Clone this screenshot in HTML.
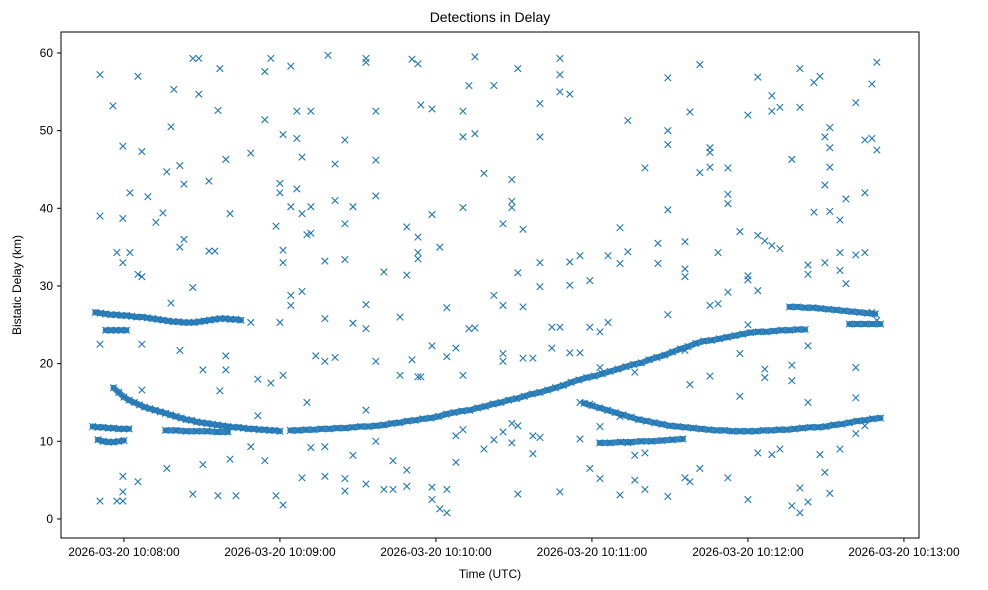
<!DOCTYPE html>
<html><head><meta charset="utf-8"><style>
body{margin:0;background:#fff;}
svg{display:block;font-family:"Liberation Sans","DejaVu Sans",sans-serif;}
</style></head><body>
<svg id="chart" width="988" height="590" viewBox="0 0 988 590" xmlns="http://www.w3.org/2000/svg">
<rect width="988" height="590" fill="#fff"/>
<text x="490" y="22" text-anchor="middle" font-size="14">Detections in Delay</text>
<g id="marks"></g>
<rect x="61" y="32" width="858" height="506" fill="none" stroke="#000" stroke-width="1"/>
<g id="xaxis"></g>
<g id="yaxis"></g>
<text x="490" y="578" text-anchor="middle" font-size="12">Time (UTC)</text>
<text transform="translate(21,285) rotate(-90)" text-anchor="middle" font-size="12">Bistatic Delay (km)</text>
</svg>
<script>
// time in seconds after 10:08:00 UTC
const xTickSecs = [0, 60, 120, 180, 240, 300];
const xTickLabels = ["2026-03-20 10:08:00","2026-03-20 10:09:00","2026-03-20 10:10:00","2026-03-20 10:11:00","2026-03-20 10:12:00","2026-03-20 10:13:00"];
const yTicks = [0, 10, 20, 30, 40, 50, 60];

// tracks: start time, step (s), values
const trackA = {t0:-11, dt:2, v:[26.6,26.5,26.4,26.3,26.3,26.2,26.2,26.1,26.0,26.0,25.9,25.8,25.7,25.6,25.5,25.4,25.4,25.3,25.3,25.3,25.4,25.5,25.6,25.7,25.8,25.8,25.7,25.7,25.6]};
const trackA2 = {t0:-7, dt:2, v:[24.3,24.3,24.3,24.3,24.3]};
const trackB = {t0:-4, dt:2, v:[16.9,16.3,15.7,15.3,15.0,14.7,14.4,14.2,14.0,13.8,13.6,13.4,13.2,13.0,12.8,12.7,12.5,12.4,12.3,12.2,12.1,12.0,11.9,11.8,11.8,11.7,11.6,11.6,11.5,11.5,11.4,11.4,11.3]};
const trackL1 = {t0:-12, dt:2, v:[11.9,11.8,11.8,11.7,11.7,11.6,11.6,11.6]};
const trackL2 = {t0:-10, dt:2, v:[10.2,10.0,9.9,9.9,10.0,10.1]};
const trackM = {t0:16, dt:4, v:[11.4,11.4,11.3,11.3,11.3,11.2,11.2]};
const trackC = {t0:64, dt:3, v:[11.4,11.4,11.5,11.5,11.6,11.6,11.7,11.7,11.8,11.9,11.9,12.0,12.1,12.3,12.4,12.6,12.7,12.9,13.0,13.2,13.5,13.7,13.9,14.0,14.3,14.5,14.8,15.0,15.3,15.5,15.8,16.1,16.3,16.6,16.9,17.2,17.6,17.9,18.2,18.4,18.7,19.0,19.3,19.6,19.9,20.1,20.5,20.8,21.1,21.5,21.9,22.2,22.6,22.9,23.0,23.2,23.4,23.6,23.8,24.0,24.1,24.1,24.2,24.3,24.3,24.4,24.4]};
const trackE = {t0:177, dt:3, v:[14.9,14.6,14.3,14.0,13.7,13.4,13.1,12.8,12.6,12.4,12.2,12.0,11.9,11.8,11.7,11.6,11.5,11.4,11.4,11.3,11.3,11.3,11.3,11.4,11.4,11.5,11.5,11.6,11.7,11.8,11.8,11.9,12.1,12.2,12.4,12.6,12.7,12.9,13.0]};
const trackE2 = {t0:183, dt:4, v:[9.8,9.8,9.9,9.9,10.0,10.0,10.1,10.2,10.3]};
const trackD = {t0:256, dt:3, v:[27.3,27.3,27.2,27.2,27.1,27.0,26.9,26.8,26.7,26.6,26.5,26.4]};
const trackD2 = {t0:279, dt:3, v:[25.1,25.1,25.1,25.1,25.1]};

// scattered detections: [time, [delays]]
const noise = [[-9.2,[57.2,39,2.3,22.5]],[-4.2,[53.2]],[-2.7,[34.3,2.3]],[-0.4,[48,33,38.7,5.5,3.5,2.3]],[2.3,[42,34.3]],[5.4,[57,31.5,4.8]],[6.9,[47.3,31.2,16.6,22.5]],[9.2,[41.5]],[12.3,[38.2]],[15,[39.4]],[16.5,[44.7,6.5]],[18.1,[50.5,27.8]],[19.2,[55.3]],[21.5,[45.5,21.7,35]],[23.1,[43.1,36]],[26.5,[59.3,29.8,3.2]],[28.8,[59.3,54.7]],[30.4,[7,19.2]],[32.7,[43.5,34.5]],[35,[34.5]],[36.2,[52.6,3]],[36.9,[58,16.5]],[39.2,[46.3,21,19.2]],[40.8,[39.3,7.7]],[43.1,[3]],[48.8,[47.1,25.3,9.3]],[51.5,[18,13.3]],[54.2,[57.6,51.4,7.5]],[56.5,[59.3,17.5]],[58.5,[3,37.7]],[60,[42,43.2,25.3]],[61.2,[49.5,33,34.6,1.8,18.5]],[64.2,[58.3,40.2,27.5,28.8]],[66.5,[52.5,42.5,49]],[68.5,[46.6,39.3,29.3,5.3]],[70.4,[36.6,15]],[71.9,[52.5,36.8,40.2,9.2]],[73.8,[21]],[77.3,[33.2,25.8,20.3,5.5,9.3]],[78.5,[59.7]],[81.2,[45.7,41,20.8]],[85,[48.8,38,33.4,5.2,3.6]],[88.1,[40.2,25.2,8.2]],[93.1,[58.8,59.3,27.6,24.5,4.5,14]],[96.9,[52.5,46.2,41.6,20.3,10]],[100,[31.8,3.8]],[103.5,[3.8,7.5]],[106.2,[26,18.5]],[108.8,[6.3,4.2,31.4,37.6]],[110.8,[59.2,20.5]],[113.1,[58.6,34.3,33.5,36.3,18.3]],[114.2,[53.3,18.3]],[118.5,[39.2,52.8,2.5,22.3,4.1]],[121.5,[35,1.3]],[124.2,[0.8,3.8,27.2,20.9]],[127.7,[22,7.3,10.7]],[130.4,[52.5,49.2,40.1,18.5,11.5]],[132.7,[55.8,24.5]],[135,[59.5,49.6,24.6]],[138.5,[44.5,9]],[142.3,[55.8,28.8,10.2]],[145.8,[38,27.5,21.3,20.3,11.2]],[149.2,[43.7,40.9,40.1,12.3,9.8]],[151.5,[58,31.7,3.2,12]],[153.5,[37.3,27.3,20.7]],[157.3,[20.7,10.7,8.4]],[160,[49.2,53.5,33,29.9,10.5]],[164.6,[24.7,22]],[167.7,[57.2,59.3,55,3.5,24.7]],[171.5,[54.7,33.1,30.1,21.4]],[175.4,[33.9,21.4,10.3,15]],[179.2,[30.7,24.7,6.5,14.8]],[183.1,[5.2,24.1,19.5,11.9]],[186.2,[33.9,25.3]],[190.8,[3.1,37.5,32.9,13.2]],[193.8,[51.3,34.4,9.8]],[196.5,[5,18.9,8.2]],[200.4,[45.2,3.8,8.5]],[205.4,[35.5,32.9]],[209.2,[26.3,39.8,50,48.2,56.8,2.9]],[215.8,[35.7,32.2,31.2,21.7,5.3]],[217.7,[52.4,17.3,4.8]],[221.5,[58.5,44.6,6.5]],[225.4,[47.2,45.3,47.8,18.4,27.5]],[228.5,[34.3,27.7]],[232.3,[45.2,41.8,40.6,29.2,5.3]],[236.9,[37,21.3,15.8]],[240,[52,31.3,30.8,25,2.5]],[243.8,[56.9,36.5,29.4,8.5]],[246.5,[35.8,19.3,18.2]],[249.2,[52.5,54.5,35.2,8.3]],[252.3,[53,34.8,9]],[256.9,[46.3,17.8,19.8,1.7]],[260,[58,53,4,0.8]],[263.1,[2.2,15,31.5,32.7,22.3]],[265.4,[56.2,39.5]],[267.7,[57,8.3]],[269.6,[43,49.2,33,6]],[271.5,[45.3,47.8,50.4,39.6,3.3]],[275.4,[38.5,34.3,9,32]],[277.7,[30.3,41.2]],[281.5,[53.6,34,19.5,15.6,11]],[285,[48.8,42,34.3,12]],[287.7,[56,49,26.6]],[289.6,[58.8,47.5,25.6]]];

const X0=61, X1=919, Y0=538, Y1=32;
const xDom=[-24.2,305.8], yDom=[-2.45,62.7];
function xs(t){return X0+(t-xDom[0])/(xDom[1]-xDom[0])*(X1-X0);}
function ys(v){return Y0-(v-yDom[0])/(yDom[1]-yDom[0])*(Y0-Y1);}
const NS="http://www.w3.org/2000/svg";
const marks=document.getElementById('marks');
function mark(t,v,name){
  const x=xs(t), y=ys(v), r=3.3;
  const p=document.createElementNS(NS,'path');
  p.setAttribute('d',`M${x-r},${y-r}L${x+r},${y+r}M${x-r},${y+r}L${x+r},${y-r}`);
  p.setAttribute('stroke','#1f77b4');
  p.setAttribute('stroke-width','1.1');
  p.setAttribute('fill','none');
  
  
  marks.appendChild(p);
}
const tracks=[trackA,trackA2,trackB,trackL1,trackL2,trackM,trackC,trackE,trackE2,trackD,trackD2];
// dense detections along tracks form solid bands
tracks.forEach(tr=>{
  const pts=tr.v.map((v,i)=>xs(tr.t0+i*tr.dt).toFixed(1)+','+ys(v).toFixed(1));
  const pl=document.createElementNS(NS,'polyline');
  pl.setAttribute('points',pts.join(' '));
  pl.setAttribute('fill','none');
  pl.setAttribute('stroke','#1f77b4');
  pl.setAttribute('stroke-width','6');
  pl.setAttribute('stroke-linecap','round');
  pl.setAttribute('stroke-linejoin','round');
  pl.setAttribute('opacity','0.9');
  
  
  marks.appendChild(pl);
});
tracks.forEach(tr=>{
  tr.v.forEach((v,i)=>mark(tr.t0+i*tr.dt, v, 'track-detection'));
});
noise.forEach(([t,vals])=>vals.forEach(v=>mark(t,v,'scatter-detection')));

const xa=document.getElementById('xaxis');
xTickSecs.forEach((s,i)=>{
  const x=xs(s);
  const l=document.createElementNS(NS,'line');
  l.setAttribute('x1',x);l.setAttribute('x2',x);l.setAttribute('y1',Y0);l.setAttribute('y2',Y0+4);
  l.setAttribute('stroke','#000');
  
  
  xa.appendChild(l);
  const tx=document.createElementNS(NS,'text');
  tx.setAttribute('x',x);tx.setAttribute('y',Y0+18);tx.setAttribute('text-anchor','middle');tx.setAttribute('font-size','12');
  tx.textContent=xTickLabels[i];
  
  
  xa.appendChild(tx);
});
const ya=document.getElementById('yaxis');
yTicks.forEach(v=>{
  const y=ys(v);
  const l=document.createElementNS(NS,'line');
  l.setAttribute('x1',X0-4);l.setAttribute('x2',X0);l.setAttribute('y1',y);l.setAttribute('y2',y);
  l.setAttribute('stroke','#000');
  
  
  ya.appendChild(l);
  const tx=document.createElementNS(NS,'text');
  tx.setAttribute('x',X0-8);tx.setAttribute('y',y+4);tx.setAttribute('text-anchor','end');tx.setAttribute('font-size','12');
  tx.textContent=String(v);
  
  
  ya.appendChild(tx);
});
</script>
</body></html>
